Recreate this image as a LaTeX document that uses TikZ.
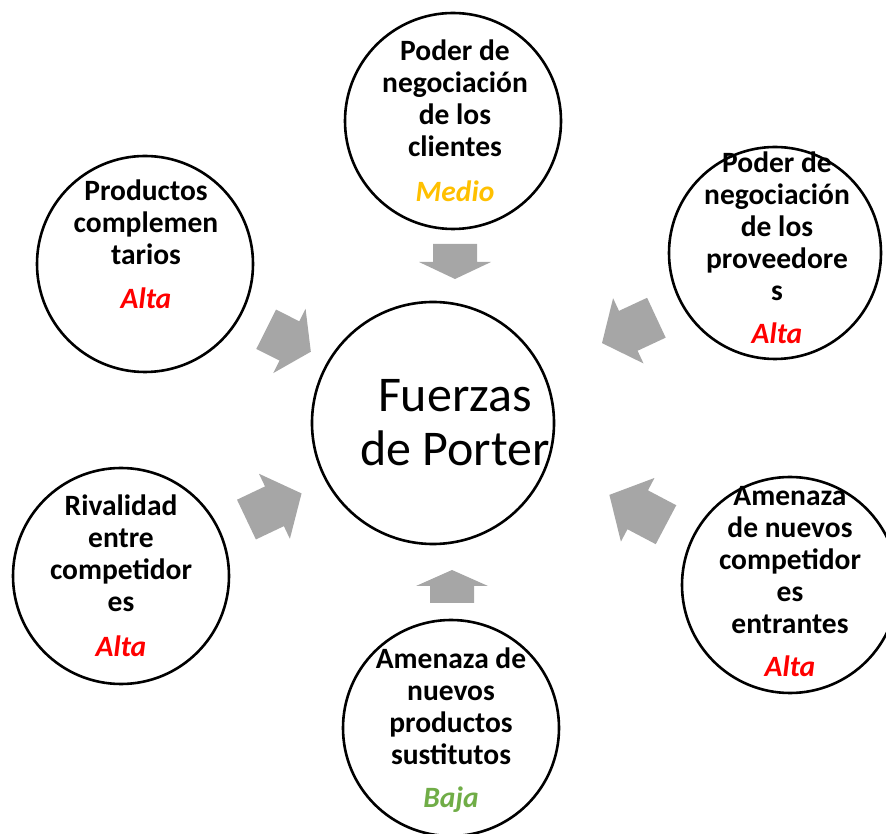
\documentclass[tikz,border=0pt]{standalone}
\usepackage{fontspec}
\setmainfont{Carlito}
\definecolor{arrowgray}{HTML}{A6A6A6}
\definecolor{medio}{HTML}{FFC000}
\definecolor{alta}{HTML}{FF0000}
\definecolor{baja}{HTML}{70AD47}
\tikzset{
  force/.style={circle, draw=black, line width=2.6pt, fill=white, inner sep=0pt},
  forcetext/.style={anchor=north, align=center, inner sep=0pt, font=\bfseries\fontsize{29.5}{32}\selectfont},
  pics/blockarrow/.style 2 args={code={
    \fill[arrowgray] (-#1/2,-22) -- ({#1/2-#2},-22) -- ({#1/2-#2},-36) -- ({#1/2},0)
      -- ({#1/2-#2},36) -- ({#1/2-#2},22) -- (-#1/2,22) -- cycle;
  }}
}
\begin{document}
\begin{tikzpicture}[x=1pt,y=1pt]
\useasboundingbox (0,0) rectangle (886,833);
\clip (0,0) rectangle (886,833);
% circles
\node[force, minimum size=242] (centro) at (433,410) {};
\node[force, minimum size=216] (clientes) at (453,712) {};
\node[force, minimum size=216] (complementarios) at (145,569) {};
\node[force, minimum size=212] (proveedores) at (775,580) {};
\node[force, minimum size=216] (rivalidad) at (121,257) {};
\node[force, minimum size=216] (entrantes) at (790,248) {};
\node[force, minimum size=216] (sustitutos) at (451,105) {};
% texts
\node[align=center, inner sep=0pt, font=\fontsize{50}{54}\selectfont] (tcentro) at (455,410) {Fuerzas\\de Porter};
\node[forcetext] (tclientes) at (455,793) {\rule{0pt}{20pt}Poder de\\negociación\\de los\\clientes\\[13pt]\textcolor{medio}{\itshape Medio}};
\node[forcetext] (tcomplementarios) at (146,653) {\rule{0pt}{20pt}Productos\\complemen\\tarios\\[12pt]\textcolor{alta}{\itshape Alta}};
\node[forcetext] (tproveedores) at (777,681) {\rule{0pt}{20pt}Poder de\\negociación\\de los\\proveedore\\s\\[11pt]\textcolor{alta}{\itshape Alta}};
\node[forcetext] (trivalidad) at (121,338) {\rule{0pt}{20pt}Rivalidad\\entre\\competidor\\es\\[13pt]\textcolor{alta}{\itshape Alta}};
\node[forcetext] (tentrantes) at (790,348) {\rule{0pt}{20pt}Amenaza\\de nuevos\\competidor\\es\\entrantes\\[11pt]\textcolor{alta}{\itshape Alta}};
\node[forcetext] (tsustitutos) at (451,185) {\rule{0pt}{20pt}Amenaza de\\nuevos\\productos\\sustitutos\\[11pt]\textcolor{baja}{\itshape Baja}};
% block arrows
\pic (a1) [rotate=-90] at (455,571.5) {blockarrow={35}{17}};
\pic (a2) [rotate=90] at (452,246.5) {blockarrow={33}{16}};
\pic (a3) [rotate=-26.7] at (288.5,492.5) {blockarrow={50}{24}};
\pic (a4) [rotate=205] at (629.2,502.6) {blockarrow={60}{29}};
\pic (a5) [rotate=25.4] at (274,326.5) {blockarrow={61}{30}};
\pic (a6) [rotate=152.2] at (637.7,323.2) {blockarrow={64}{32}};
\end{tikzpicture}
\end{document}
